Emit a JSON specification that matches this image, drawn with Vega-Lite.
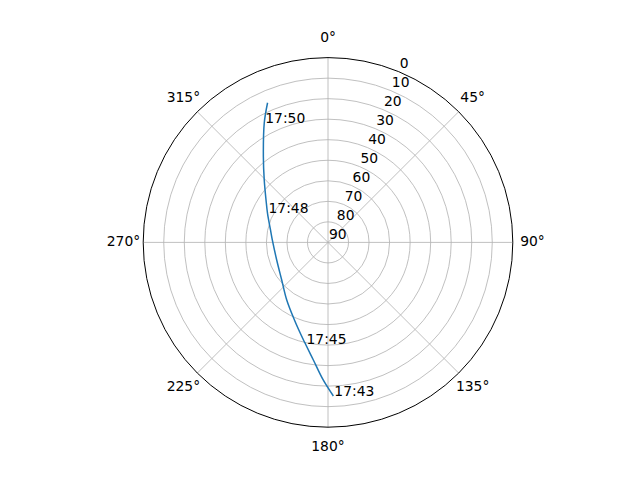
{
  "$schema": "https://vega.github.io/schema/vega-lite/v6.json",
  "autosize": {"type": "none"},
  "width": 369.6,
  "height": 369.6,
  "padding": {"left": 143.2, "top": 57.6, "right": 127.2, "bottom": 52.8},
  "background": "white",
  "config": {"view": {"stroke": null}, "text": {"font": "DejaVu Sans", "fontSize": 13.89, "color": "black"}},
  "datasets": {
    "rings": [{"el": 10}, {"el": 20}, {"el": 30}, {"el": 40}, {"el": 50}, {"el": 60}, {"el": 70}, {"el": 80}],
    "outer": [{"el": 0}],
    "spokes": [{"az": 0}, {"az": 45}, {"az": 90}, {"az": 135}, {"az": 180}, {"az": 225}, {"az": 270}, {"az": 315}],
    "angles": [
      {"az": 0, "text": "0°"}, {"az": 45, "text": "45°"}, {"az": 90, "text": "90°"}, {"az": 135, "text": "135°"},
      {"az": 180, "text": "180°"}, {"az": 225, "text": "225°"}, {"az": 270, "text": "270°"}, {"az": 315, "text": "315°"}
    ],
    "rlabels": [
      {"el": 0, "text": "0"}, {"el": 10, "text": "10"}, {"el": 20, "text": "20"}, {"el": 30, "text": "30"},
      {"el": 40, "text": "40"}, {"el": 50, "text": "50"}, {"el": 60, "text": "60"}, {"el": 70, "text": "70"},
      {"el": 80, "text": "80"}, {"el": 90, "text": "90"}
    ],
    "pass": [
      {"idx": 0, "az": 178.0, "el": 15.15, "label": "17:43"},
      {"idx": 1, "az": 182.0, "el": 22.95},
      {"idx": 2, "az": 187.1, "el": 32.28},
      {"idx": 3, "az": 192.5, "el": 39.32, "label": "17:45"},
      {"idx": 4, "az": 194.1, "el": 40.99},
      {"idx": 5, "az": 203.4, "el": 48.84},
      {"idx": 6, "az": 215.6, "el": 55.48},
      {"idx": 7, "az": 230.9, "el": 60.95},
      {"idx": 8, "az": 251.1, "el": 63.59},
      {"idx": 9, "az": 272.5, "el": 62.85},
      {"idx": 10, "az": 282.2, "el": 61.35},
      {"idx": 11, "az": 295.7, "el": 57.31, "label": "17:48"},
      {"idx": 12, "az": 304.4, "el": 53.42},
      {"idx": 13, "az": 314.4, "el": 46.54},
      {"idx": 14, "az": 323.0, "el": 37.70},
      {"idx": 15, "az": 331.9, "el": 24.09, "label": "17:50"},
      {"idx": 16, "az": 336.6, "el": 15.90}
    ]
  },
  "resolve": {"scale": {"x": "shared", "y": "shared"}},
  "layer": [
    {
      "data": {"name": "rings"},
      "transform": [
        {"calculate": "90 - datum.el", "as": "r"},
        {"calculate": "0", "as": "cx"},
        {"calculate": "0", "as": "cy"}
      ],
      "mark": {"type": "point", "shape": "circle", "filled": false, "stroke": "#b0b0b0", "strokeWidth": 0.8, "opacity": 1},
      "encoding": {
        "x": {"field": "cx", "type": "quantitative", "scale": {"domain": [-90, 90], "nice": false, "zero": false}, "axis": null},
        "y": {"field": "cy", "type": "quantitative", "scale": {"domain": [-90, 90], "nice": false, "zero": false}, "axis": null},
        "size": {"field": "r", "type": "quantitative", "scale": {"type": "pow", "exponent": 2, "domain": [0, 90], "range": [0, 136604], "zero": true}, "legend": null}
      }
    },
    {
      "data": {"name": "spokes"},
      "transform": [
        {"calculate": "0", "as": "cx"},
        {"calculate": "0", "as": "cy"},
        {"calculate": "90 * sin(datum.az * PI / 180)", "as": "ex"},
        {"calculate": "90 * cos(datum.az * PI / 180)", "as": "ey"}
      ],
      "mark": {"type": "rule", "stroke": "#b0b0b0", "strokeWidth": 0.8},
      "encoding": {
        "x": {"field": "cx", "type": "quantitative"},
        "y": {"field": "cy", "type": "quantitative"},
        "x2": {"field": "ex"},
        "y2": {"field": "ey"}
      }
    },
    {
      "data": {"name": "outer"},
      "transform": [
        {"calculate": "90 - datum.el", "as": "r"},
        {"calculate": "0", "as": "cx"},
        {"calculate": "0", "as": "cy"}
      ],
      "mark": {"type": "point", "shape": "circle", "filled": false, "stroke": "black", "strokeWidth": 1, "opacity": 1},
      "encoding": {
        "x": {"field": "cx", "type": "quantitative"},
        "y": {"field": "cy", "type": "quantitative"},
        "size": {"field": "r", "type": "quantitative", "legend": null}
      }
    },
    {
      "data": {"name": "pass"},
      "transform": [
        {"calculate": "(90 - datum.el) * sin(datum.az * PI / 180)", "as": "x"},
        {"calculate": "(90 - datum.el) * cos(datum.az * PI / 180)", "as": "y"}
      ],
      "mark": {"type": "line", "color": "#1f77b4", "strokeWidth": 1.5, "interpolate": "catmull-rom"},
      "encoding": {
        "x": {"field": "x", "type": "quantitative"},
        "y": {"field": "y", "type": "quantitative"},
        "order": {"field": "idx", "type": "quantitative"}
      }
    },
    {
      "data": {"name": "pass"},
      "transform": [
        {"filter": "isValid(datum.label)"},
        {"calculate": "(90 - datum.el) * sin(datum.az * PI / 180)", "as": "x"},
        {"calculate": "(90 - datum.el) * cos(datum.az * PI / 180)", "as": "y"}
      ],
      "mark": {"type": "text", "align": "left", "baseline": "alphabetic", "dx": 1},
      "encoding": {
        "x": {"field": "x", "type": "quantitative"},
        "y": {"field": "y", "type": "quantitative"},
        "text": {"field": "label"}
      }
    },
    {
      "data": {"name": "angles"},
      "transform": [
        {"calculate": "99.6 * sin(datum.az * PI / 180)", "as": "x"},
        {"calculate": "99.6 * cos(datum.az * PI / 180)", "as": "y"}
      ],
      "mark": {"type": "text", "align": "center", "baseline": "middle"},
      "encoding": {
        "x": {"field": "x", "type": "quantitative"},
        "y": {"field": "y", "type": "quantitative"},
        "text": {"field": "text"}
      }
    },
    {
      "data": {"name": "rlabels"},
      "transform": [
        {"calculate": "(90 - datum.el) * sin(22.5 * PI / 180)", "as": "x"},
        {"calculate": "(90 - datum.el) * cos(22.5 * PI / 180)", "as": "y"}
      ],
      "mark": {"type": "text", "align": "left", "baseline": "alphabetic", "dx": 1, "dy": -3.2},
      "encoding": {
        "x": {"field": "x", "type": "quantitative"},
        "y": {"field": "y", "type": "quantitative"},
        "text": {"field": "text"}
      }
    }
  ]
}
